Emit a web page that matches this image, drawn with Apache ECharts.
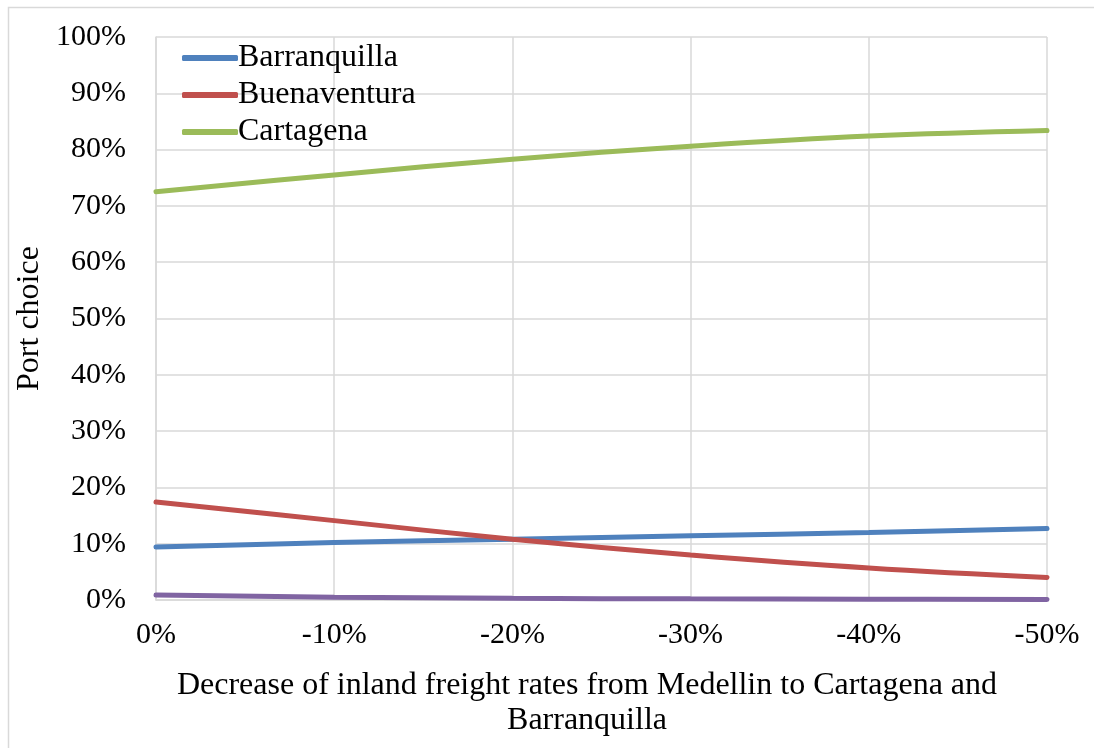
<!DOCTYPE html>
<html>
<head>
<meta charset="utf-8">
<title>Port choice</title>
<script src="https://cdn.jsdelivr.net/npm/echarts@6/dist/echarts.min.js"></script>
<style>
  html, body { margin: 0; padding: 0; background: #ffffff; }
  #chart { width: 1094px; height: 748px; }
</style>
</head>
<body>
<div id="chart"></div>
<script>
// Decrease of inland freight rates (category axis)
var categories = ['0%', '-10%', '-20%', '-30%', '-40%', '-50%'];

// Port choice shares, in percent
var barranquilla = [9.4, 10.2, 10.8, 11.4, 12.0, 12.7];
var buenaventura = [17.4, 14.1, 10.8, 8.0, 5.7, 4.0];
var cartagena    = [72.5, 75.5, 78.3, 80.6, 82.4, 83.4];
var santaMarta   = [0.9, 0.5, 0.3, 0.2, 0.15, 0.1];

var FONT = '"Liberation Serif", "Times New Roman", serif';
var GRID_COLOR = '#d9d9d9';

var chart = echarts.init(document.getElementById('chart'), null, { renderer: 'canvas' });

function lineSeries(name, data, color) {
  return {
    name: name,
    type: 'line',
    data: data,
    smooth: 0.4,
    showSymbol: false,
    symbol: 'none',
    lineStyle: { color: color, width: 5, cap: 'round' },
    itemStyle: { color: color },
    emphasis: { disabled: true }
  };
}

chart.setOption({
  animation: false,
  backgroundColor: '#ffffff',
  textStyle: { fontFamily: FONT },
  grid: { left: 156, right: 47, top: 37, bottom: 148, containLabel: false },
  legend: {
    orient: 'vertical',
    left: 177,
    top: 37,
    itemGap: 5,
    itemWidth: 56,
    itemHeight: 6,
    icon: 'roundRect',
    data: ['Barranquilla', 'Buenaventura', 'Cartagena'],
    textStyle: { fontFamily: FONT, fontSize: 32, color: '#000000', padding: [0, 0, 0, -5] }
  },
  xAxis: {
    type: 'category',
    data: categories,
    boundaryGap: false,
    axisLine: { show: true, lineStyle: { color: GRID_COLOR, width: 1.5 } },
    axisTick: { show: false },
    axisLabel: { fontFamily: FONT, fontSize: 30, color: '#000000', margin: 20 },
    splitLine: { show: true, lineStyle: { color: GRID_COLOR, width: 1.5 } }
  },
  yAxis: {
    type: 'value',
    min: 0,
    max: 100,
    interval: 10,
    name: 'Port choice',
    nameLocation: 'middle',
    nameGap: 104,
    nameTextStyle: { fontFamily: FONT, fontSize: 32, color: '#000000' },
    axisLine: { show: true, lineStyle: { color: GRID_COLOR, width: 1.5 } },
    axisTick: { show: false },
    axisLabel: { fontFamily: FONT, fontSize: 30, color: '#000000', margin: 30, formatter: '{value}%' },
    splitLine: { show: true, lineStyle: { color: GRID_COLOR, width: 1.5 } }
  },
  graphic: [
    {
      type: 'rect',
      silent: true,
      shape: { x: 8.5, y: 7.5, width: 1200, height: 1000 },
      style: { fill: null, stroke: GRID_COLOR, lineWidth: 1.5 },
      z: -10
    },
    {
      type: 'text',
      silent: true,
      left: 587 - 440,
      top: 668,
      style: {
        text: 'Decrease of inland freight rates from Medellin to Cartagena and\nBarranquilla',
        width: 880,
        x: 440,
        font: '32px ' + FONT,
        fill: '#000000',
        lineHeight: 35,
        textAlign: 'center'
      }
    }
  ],
  series: [
    lineSeries('Barranquilla', barranquilla, '#4f81bd'),
    lineSeries('Buenaventura', buenaventura, '#c0504d'),
    lineSeries('Cartagena', cartagena, '#9bbb59'),
    lineSeries('Santa Marta', santaMarta, '#8064a2')
  ]
});
</script>
</body>
</html>
